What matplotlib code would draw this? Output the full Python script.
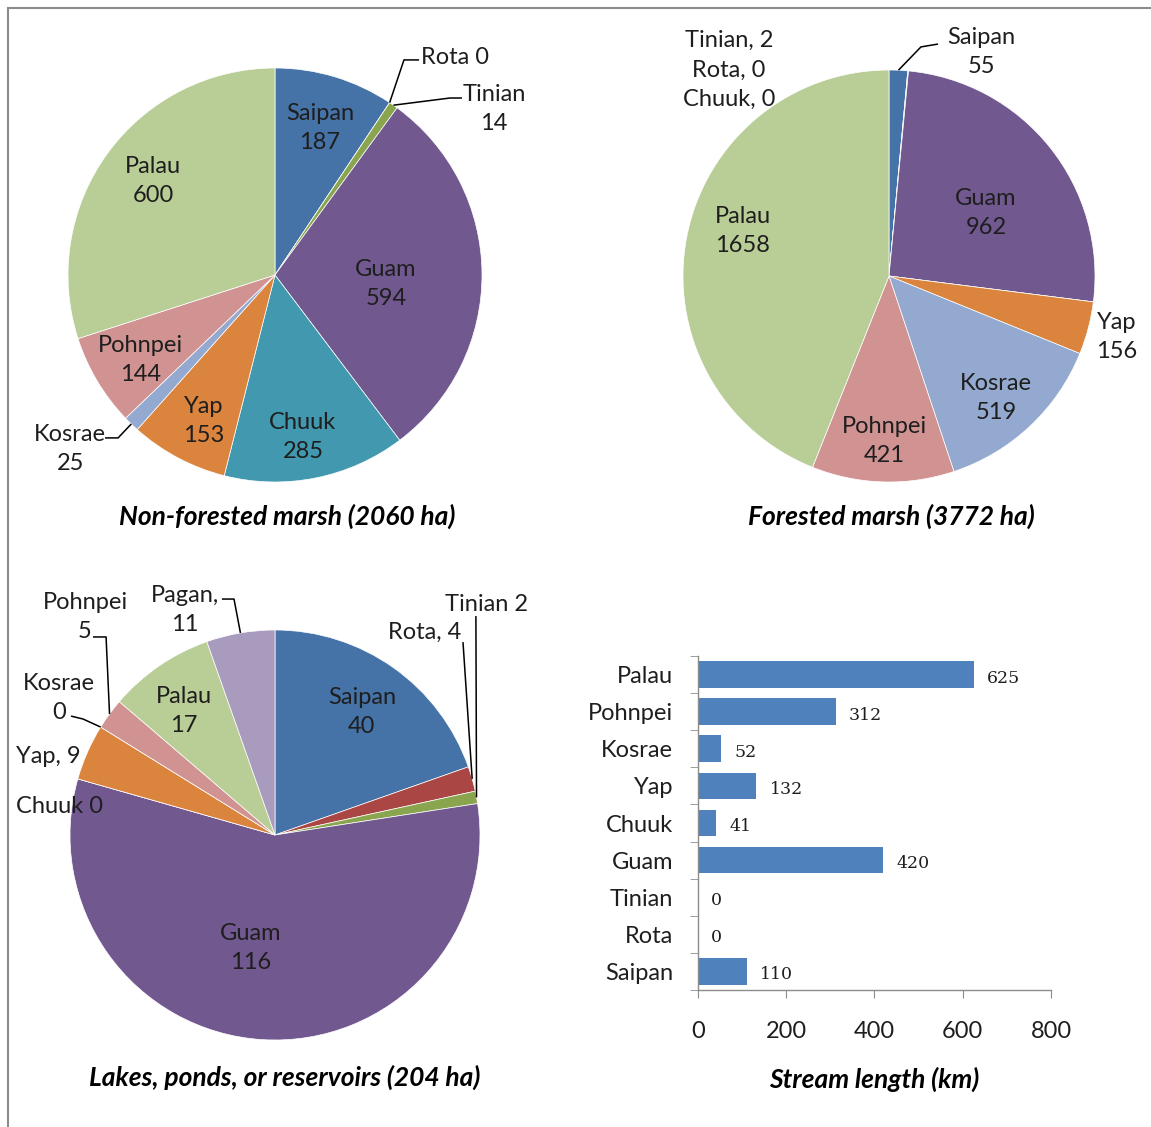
import numpy as np
import matplotlib
matplotlib.use('Agg')
import matplotlib.pyplot as plt
from matplotlib.patches import Rectangle

plt.rcParams['font.family'] = ['Lato', 'DejaVu Sans']

W, H = 1151, 1127
fig = plt.figure(figsize=(W / 100, H / 100), dpi=100)

# Excel 2007 series colours, one per island
palette = {'Saipan': '#4572A7', 'Rota': '#AA4643', 'Tinian': '#89A54E', 'Guam': '#71588F',
           'Chuuk': '#4198AF', 'Yap': '#DB843D', 'Kosrae': '#93A9CF', 'Pohnpei': '#D19392',
           'Palau': '#B9CD96', 'Pagan': '#A99BBD'}

# ---- data ----
nf_names = ['Saipan', 'Rota', 'Tinian', 'Guam', 'Chuuk', 'Yap', 'Kosrae', 'Pohnpei', 'Palau']
nf_values = [187, 0, 14, 594, 285, 153, 25, 144, 600]

fm_names = ['Saipan', 'Rota', 'Tinian', 'Guam', 'Chuuk', 'Yap', 'Kosrae', 'Pohnpei', 'Palau']
fm_values = [55, 0, 2, 962, 0, 156, 519, 421, 1658]

lk_names = ['Saipan', 'Rota', 'Tinian', 'Guam', 'Chuuk', 'Yap', 'Kosrae', 'Pohnpei', 'Palau', 'Pagan']
lk_values = [40, 4, 2, 116, 0, 9, 0, 5, 17, 11]

stream_names = ['Saipan', 'Rota', 'Tinian', 'Guam', 'Chuuk', 'Yap', 'Kosrae', 'Pohnpei', 'Palau']
stream_km = [110, 0, 0, 420, 41, 132, 52, 312, 625]

titles = ['Non-forested marsh (2060 ha)', 'Forested marsh (3772 ha)',
          'Lakes, ponds, or reservoirs (204 ha)', 'Stream length (km)']

TXT = '#1e1e1e'
FS = 17
LS = 1.5


def pie_axes(cx, cy, r, half=1.6):
    ax = fig.add_axes([(cx - half * r) / W, 1 - (cy + half * r) / H, 2 * half * r / W, 2 * half * r / H])
    ax.set_axis_off()
    return ax


def draw_pie(ax, names, values):
    wedges, _ = ax.pie(values, colors=[palette[n] for n in names], startangle=90,
                       counterclock=False, wedgeprops=dict(edgecolor='white', linewidth=0.5))
    ax.set_xlim(-1.6, 1.6)
    ax.set_ylim(-1.6, 1.6)
    ax.set_aspect('equal')
    return dict(zip(names, wedges))


def anchor(w):
    a = np.deg2rad((w.theta1 + w.theta2) / 2)
    return np.cos(a), np.sin(a)


def put_labels(ax, names, values, wedges, layout, leaders):
    vals = dict(zip(names, values))
    for n, (x, y, fmt, ha) in layout.items():
        ax.text(x, y, fmt.format(n=n, v=vals[n]), ha=ha, va='center', fontsize=FS,
                color=TXT, linespacing=LS, multialignment='center', clip_on=False)
    for n, pts in leaders.items():
        ax_, ay_ = anchor(wedges[n])
        xs = [p[0] for p in pts] + [ax_]
        ys = [p[1] for p in pts] + [ay_]
        ax.plot(xs, ys, color='black', lw=1.1, clip_on=False, solid_capstyle='butt')


# ---- pie 1: non-forested marsh ----
ax1 = pie_axes(275, 275, 207)
w1 = draw_pie(ax1, nf_names, nf_values)
lay1 = {'Saipan': (0.217, 0.710, '{n}\n{v}', 'center'),
        'Rota': (0.705, 1.053, '{n} {v}', 'left'),
        'Tinian': (1.058, 0.802, '{n}\n{v}', 'center'),
        'Guam': (0.536, -0.043, '{n}\n{v}', 'center'),
        'Chuuk': (0.135, -0.783, '{n}\n{v}', 'center'),
        'Yap': (-0.343, -0.705, '{n}\n{v}', 'center'),
        'Kosrae': (-0.990, -0.841, '{n}\n{v}', 'center'),
        'Pohnpei': (-0.652, -0.411, '{n}\n{v}', 'center'),
        'Palau': (-0.589, 0.454, '{n}\n{v}', 'center')}
lead1 = {'Rota': [(0.696, 1.039), (0.623, 1.039)],
         'Tinian': [(0.903, 0.855), (0.845, 0.855)],
         'Kosrae': [(-0.821, -0.787), (-0.758, -0.787)]}
put_labels(ax1, nf_names, nf_values, w1, lay1, lead1)

# ---- pie 2: forested marsh ----
ax2 = pie_axes(889, 276, 206)
w2 = draw_pie(ax2, fm_names, fm_values)
lay2 = {'Saipan': (0.447, 1.087, '{n}\n{v}', 'center'),
        'Guam': (0.471, 0.306, '{n}\n{v}', 'center'),
        'Yap': (1.107, -0.296, '{n}\n{v}', 'center'),
        'Kosrae': (0.519, -0.592, '{n}\n{v}', 'center'),
        'Pohnpei': (-0.024, -0.801, '{n}\n{v}', 'center'),
        'Palau': (-0.709, 0.218, '{n}\n{v}', 'center')}
lead2 = {'Saipan': [(0.238, 1.126), (0.155, 1.112)]}
put_labels(ax2, fm_names, fm_values, w2, lay2, lead2)
fm = dict(zip(fm_names, fm_values))
ax2.text(-0.777, 1.0, '\n'.join(f'{n}, {fm[n]}' for n in ['Tinian', 'Rota', 'Chuuk']),
         ha='center', va='center', fontsize=FS, color=TXT, linespacing=LS, clip_on=False)

# ---- pie 3: lakes ----
ax3 = pie_axes(275, 835, 205)
w3 = draw_pie(ax3, lk_names, lk_values)
lay3 = {'Saipan': (0.424, 0.600, '{n}\n{v}', 'center'),
        'Rota': (0.732, 0.990, '{n}, {v}', 'center'),
        'Tinian': (1.034, 1.122, '{n} {v}', 'center'),
        'Guam': (-0.117, -0.551, '{n}\n{v}', 'center'),
        'Chuuk': (-1.050, 0.141, '{n} {v}', 'center'),
        'Yap': (-1.107, 0.385, '{n}, {v}', 'center'),
        'Kosrae': (-1.054, 0.668, '{n}\n{v}', 'center'),
        'Pohnpei': (-0.927, 1.063, '{n}\n{v}', 'center'),
        'Palau': (-0.444, 0.605, '{n}\n{v}', 'center'),
        'Pagan': (-0.439, 1.098, '{n},\n{v}', 'center')}
lead3 = {'Rota': [(0.917, 0.941)],
         'Tinian': [(0.980, 1.068)],
         'Kosrae': [(-0.995, 0.580), (-0.937, 0.566)],
         'Pohnpei': [(-0.888, 0.966), (-0.824, 0.966)],
         'Pagan': [(-0.259, 1.151), (-0.200, 1.151)]}
put_labels(ax3, lk_names, lk_values, w3, lay3, lead3)

# ---- bar chart: stream length ----
axb = fig.add_axes([698 / W, 1 - 990 / H, 353 / W, 334 / H])
ypos = np.arange(len(stream_names))
axb.barh(ypos, stream_km, height=0.72, color='#4F81BD')
axb.set_xlim(0, 800)
axb.set_ylim(-0.5, len(stream_names) - 0.5)
axb.set_xticks([0, 200, 400, 600, 800])
axb.set_yticks(ypos)
axb.set_yticklabels(stream_names)
axb.set_yticks(np.arange(-0.5, len(stream_names)), minor=True)
for s in ['top', 'right']:
    axb.spines[s].set_visible(False)
for s in ['left', 'bottom']:
    axb.spines[s].set_color('#8c8c8c')
    axb.spines[s].set_linewidth(1.0)
axb.tick_params(axis='x', length=6, color='#8c8c8c', pad=16, labelsize=FS, labelcolor=TXT)
axb.tick_params(axis='y', which='major', length=0, pad=18, labelsize=FS, labelcolor=TXT)
axb.tick_params(axis='y', which='minor', length=6, color='#8c8c8c')
for y, v in zip(ypos, stream_km):
    axb.annotate(str(v), (v, y), xytext=(9.5, -2.5), textcoords='offset points', ha='left',
                 va='center', fontsize=12.5, family='DejaVu Serif', color=TXT)

# ---- titles ----
for (x, y), t in zip([(287, 516), (891, 516), (285, 1077), (874, 1079)], titles):
    fig.text(x / W, 1 - y / H, t, ha='center', va='center', fontsize=19,
             fontweight='bold', fontstyle='italic', color='black')

# grey frame, only left and top edges fall inside the picture
fig.add_artist(Rectangle((8 / W, -0.05), 1.2, 1.05 - 8 / H, transform=fig.transFigure,
                         fill=False, edgecolor='#8c8c8c', lw=1.5))

fig.savefig('out.png', dpi=100)
